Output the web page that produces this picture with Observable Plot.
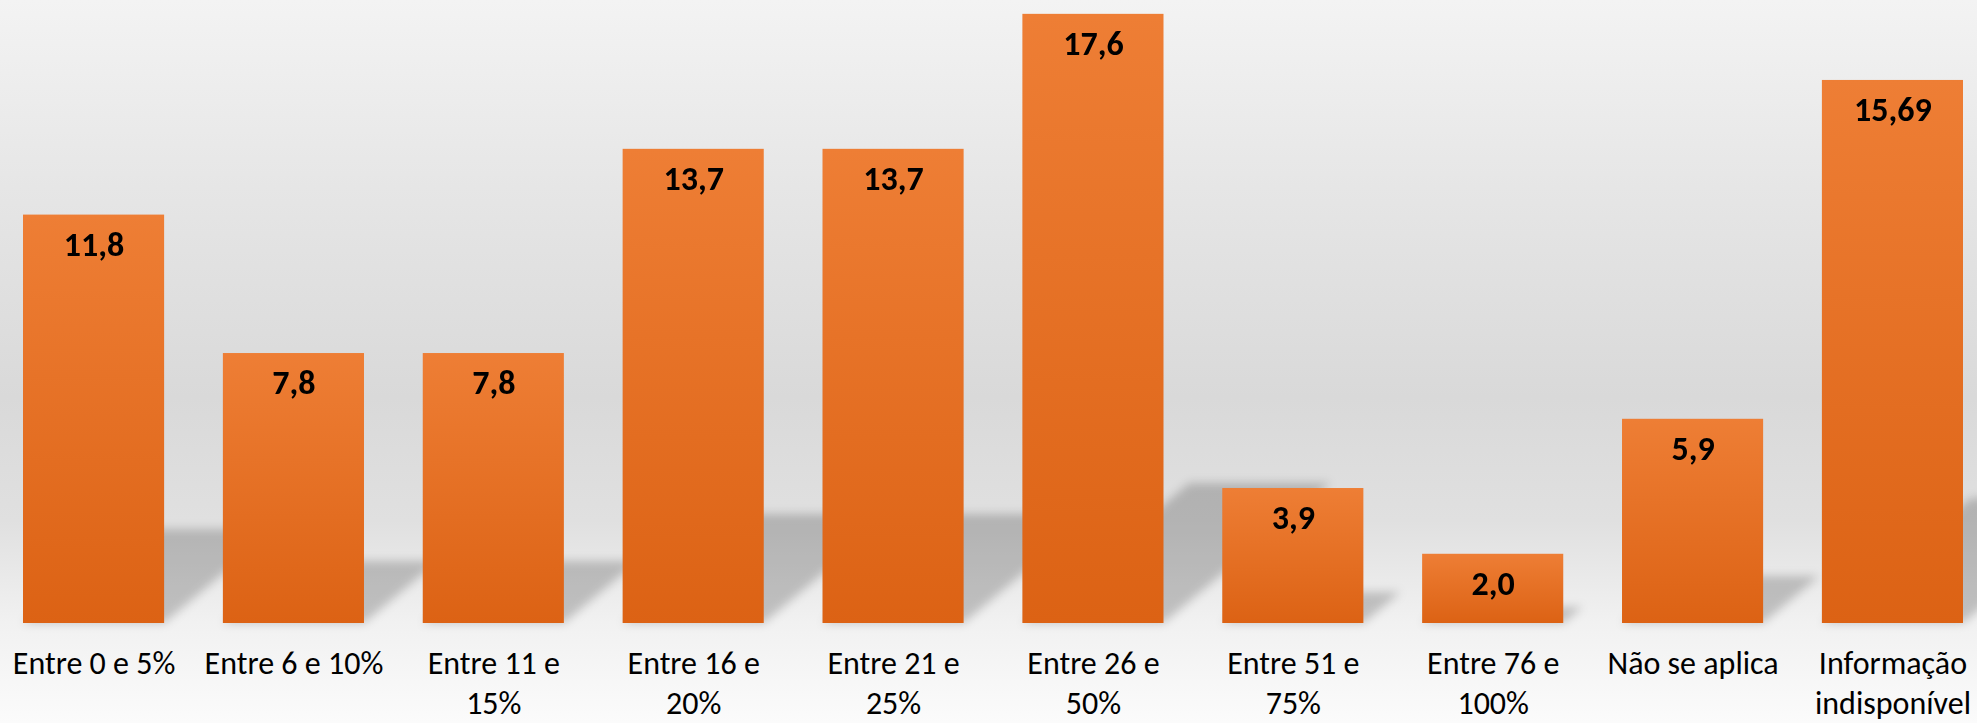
<!DOCTYPE html>
<html>
<head>
<meta charset="utf-8">
<script src="https://cdn.jsdelivr.net/npm/d3@7"></script>
<script src="https://cdn.jsdelivr.net/npm/@observablehq/plot@0.6"></script>
<style>
  html, body { margin: 0; padding: 0; background: #ffffff; }
  svg { display: block; }
</style>
</head>
<body>
<div id="chart"></div>
<script>
const categories = ["Entre 0 e 5%", "Entre 6 e 10%", "Entre 11 e 15%", "Entre 16 e 20%", "Entre 21 e 25%", "Entre 26 e 50%", "Entre 51 e 75%", "Entre 76 e 100%", "Não se aplica", "Informação indisponível"];
const tickLabels = ["Entre 0 e 5%", "Entre 6 e 10%", "Entre 11 e\n15%", "Entre 16 e\n20%", "Entre 21 e\n25%", "Entre 26 e\n50%", "Entre 51 e\n75%", "Entre 76 e\n100%", "Não se aplica", "Informação\nindisponível"];
const values = [11.8, 7.8, 7.8, 13.7, 13.7, 17.6, 3.9, 2.0, 5.9, 15.69];
const valueLabels = ["11,8", "7,8", "7,8", "13,7", "13,7", "17,6", "3,9", "2,0", "5,9", "15,69"];

const data = categories.map((c, i) => ({cat: c, value: values[i], label: tickLabels[i], vlabel: valueLabels[i]}));

const font = "Carlito, Calibri, Lato, 'Open Sans', sans-serif";

const plot = Plot.plot({
  width: 1977,
  height: 723,
  marginLeft: 23,
  marginRight: 14,
  marginTop: 0,
  marginBottom: 100,
  style: {
    background: "linear-gradient(to bottom, #f3f3f3 0%, #e4e4e4 30%, #d9d9d9 55%, #e0e0e0 72%, #f1f1f1 86%, #fbfbfb 100%)",
    fontFamily: font,
    color: "#000"
  },
  x: {domain: categories, paddingInner: 0.294, paddingOuter: 0, round: false, axis: null},
  y: {domain: [0, 18], axis: null},
  marks: [
    Plot.barY(data, {x: "cat", y: "value", fill: "#000", fillOpacity: 0.2}),
    Plot.barY(data, {x: "cat", y: "value", fill: "url(#barGrad)"}),
    Plot.text(data, {x: "cat", y: "value", text: "vlabel", dy: 30, fontSize: 34, fontWeight: "bold", fill: "#000"}),
    Plot.text(data, {x: "cat", y: 0, text: "label", lineAnchor: "top", dy: 22, fontSize: 32, lineHeight: 1.25, fill: "#000"})
  ]
});

const svg = d3.select(plot);
const defs = svg.insert("defs", ":first-child");
const grad = defs.append("linearGradient").attr("id", "barGrad").attr("x1", 0).attr("y1", 0).attr("x2", 0).attr("y2", 1);
grad.append("stop").attr("offset", "0%").attr("stop-color", "#ee7e35");
grad.append("stop").attr("offset", "100%").attr("stop-color", "#dc6214");
const filt = defs.append("filter").attr("id", "shadowBlur").attr("x", "-20%").attr("y", "-20%").attr("width", "140%").attr("height", "140%");
filt.append("feGaussianBlur").attr("stdDeviation", 5);

const y0 = plot.scale("y").apply(0);
const groups = svg.selectAll('g[aria-label="bar"]').nodes();
if (groups.length) {
  const sg = d3.select(groups[0]);
  sg.attr("filter", "url(#shadowBlur)");
  sg.selectAll("rect").attr("transform", `translate(0 ${y0}) skewX(-50) scale(1 0.23) translate(0 ${-y0})`);
}

document.getElementById("chart").appendChild(plot);
</script>
</body>
</html>
